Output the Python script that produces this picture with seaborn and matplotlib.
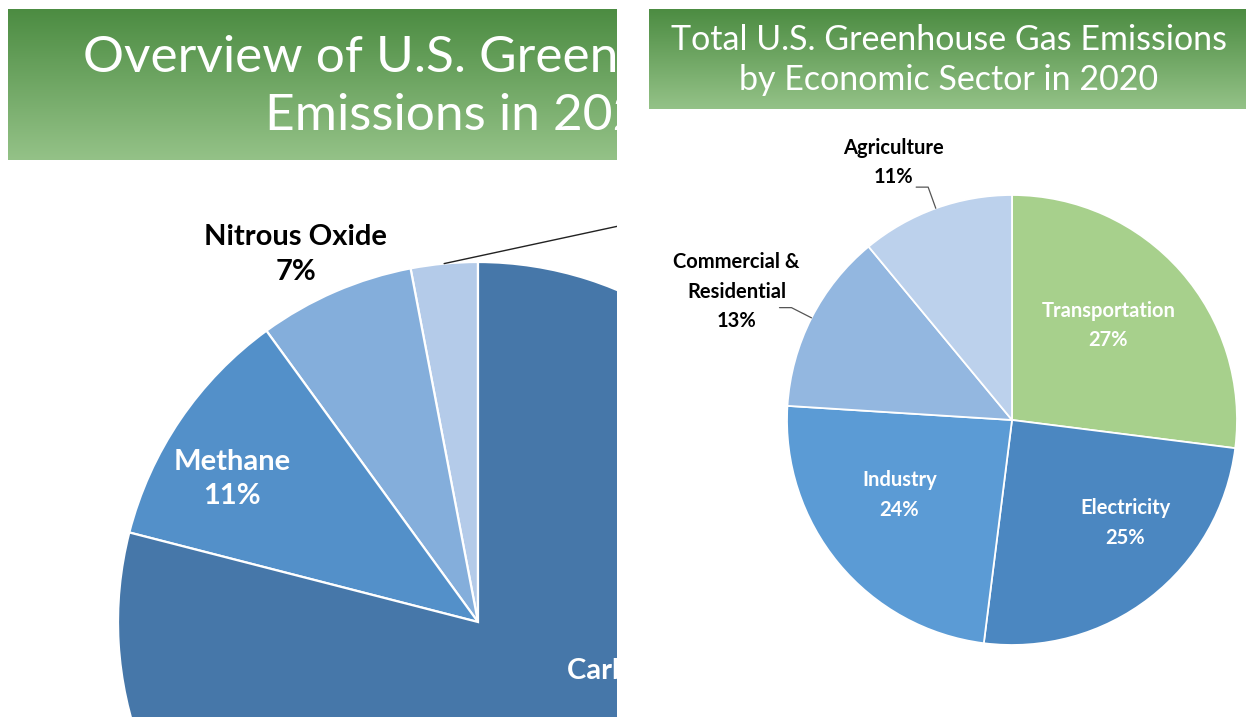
import numpy as np
import matplotlib
matplotlib.use("Agg")
import matplotlib.pyplot as plt
import seaborn as sns

# --- data -------------------------------------------------------------
gas_labels = ["Fluorinated Gases", "Nitrous Oxide", "Methane", "Carbon Dioxide"]
gas_shares = [3, 7, 11, 79]
gas_colors = ["#b4cbe9", "#84aedb", "#5390c9", "#4677a9"]

sector_labels = ["Transportation", "Electricity", "Industry",
                 "Commercial &\nResidential", "Agriculture"]
sector_shares = [27, 25, 24, 13, 11]
sector_colors = ["#a7d08c", "#4b87c1", "#5b9bd5", "#93b7e0", "#bcd1ec"]

left_title = ["Overview of U.S. Greenhouse Gas", "Emissions in 2020"]
right_title = ["Total U.S. Greenhouse Gas Emissions",
               "by Economic Sector in 2020"]

sns.set_theme(style="white")
plt.rcParams["font.family"] = ["Lato", "DejaVu Sans"]

W, H = 1246, 717
fig = plt.figure(figsize=(W / 100, H / 100), dpi=100)
fig.patch.set_facecolor("white")

LEFT_W = 617
RIGHT_X0 = 648


def img_y(y):
    """Convert a top-down pixel row to the y-up axes coordinate."""
    return H - y


def banner(ax, x0, x1, y0, y1):
    grad = np.linspace(0, 1, 64)[:, None]
    top = np.array([0.30, 0.55, 0.26])
    bot = np.array([0.58, 0.76, 0.53])
    img = top + grad[..., None] * (bot - top)
    img = np.repeat(img, 4, axis=1)
    ax.imshow(img, extent=(x0, x1, img_y(y1), img_y(y0)), aspect="auto",
              zorder=0, interpolation="bicubic")


def polar(center, r, deg):
    a = np.deg2rad(deg)
    return center[0] + r * np.cos(a), center[1] + r * np.sin(a)


def mid_angle(w):
    return 0.5 * (w.theta1 + w.theta2)


# --- left panel: gases (zoomed crop) ------------------------------------
ax_l = fig.add_axes([0, 0, LEFT_W / W, 1])
c_l = (478, img_y(622))
r_l = 360
wedges_l, _ = ax_l.pie(gas_shares, colors=gas_colors, startangle=90,
                       counterclock=True, center=c_l, radius=r_l,
                       wedgeprops={"edgecolor": "white", "linewidth": 1.6})
for w in wedges_l:
    w.set_clip_on(True)
    w.set_clip_path(ax_l.patch)
ax_l.set_xlim(0, LEFT_W)
ax_l.set_ylim(0, H)
ax_l.set_aspect("auto")
ax_l.axis("off")
banner(ax_l, 8, LEFT_W, 9, 160)
ax_l.text(83, img_y(72), left_title[0], color="white", fontsize=37,
          ha="left", va="baseline", clip_on=True, zorder=3)
ax_l.text(265, img_y(130), left_title[1], color="white", fontsize=37,
          ha="left", va="baseline", clip_on=True, zorder=3)

# label placement: (radius factor, angle nudge, colour)
gas_label_style = [(1.9, -8, "black"), (1.14, 3, "black"),
                   (0.79, 4, "white"), (0.56, 33, "white")]
for w, lab, val, (rf, nudge, col) in zip(wedges_l, gas_labels, gas_shares,
                                          gas_label_style):
    x, y = polar(c_l, r_l * rf, mid_angle(w) + nudge)
    ax_l.text(x, y, f"{lab}\n{val}%", color=col, fontsize=21,
              fontweight="bold", ha="center", va="center",
              linespacing=1.42, clip_on=True, zorder=4)

# leader line for the tiny fluorinated-gas slice, runs off the crop
w_f = wedges_l[0]
x0, y0 = polar(c_l, r_l, mid_angle(w_f))
ax_l.plot([x0, x0 + 260], [y0, y0 + 56], color="#222222", lw=1.0,
          clip_on=True, zorder=4)

# --- right panel: economic sectors --------------------------------------
ax_r = fig.add_axes([RIGHT_X0 / W, 0, (W - RIGHT_X0) / W, 1])
c_r = (1012, img_y(420))
r_r = 225
wedges_r, _ = ax_r.pie(sector_shares, colors=sector_colors, startangle=90,
                       counterclock=False, center=c_r, radius=r_r,
                       wedgeprops={"edgecolor": "white", "linewidth": 1.3})
ax_r.set_xlim(RIGHT_X0, W)
ax_r.set_ylim(0, H)
ax_r.set_aspect("auto")
ax_r.axis("off")
banner(ax_r, 649, W, 9, 109)
for line, base in zip(right_title, (50, 90)):
    ax_r.text(949, img_y(base), line, color="white", fontsize=24.5,
              ha="center", va="baseline", zorder=3)

sector_label_style = [(0.60, 3, "white"), (0.68, 10, "white"),
                      (0.60, -6, "white"), (1.35, 2, "black"),
                      (1.26, 5, "black")]
for i, (w, lab, val, (rf, nudge, col)) in enumerate(
        zip(wedges_r, sector_labels, sector_shares, sector_label_style)):
    ang = mid_angle(w)
    x, y = polar(c_r, r_r * rf, ang + nudge)
    ax_r.text(x, y, f"{lab}\n{val}%", color=col, fontsize=14.5,
              fontweight="bold", ha="center", va="center",
              linespacing=1.6, zorder=4)
    if rf > 1:
        # outside label: elbow leader from the slice edge
        ex, ey = polar(c_r, r_r, ang)
        kx, ky = polar(c_r, r_r * 1.1, ang)
        ax_r.plot([ex, kx, kx - 12], [ey, ky, ky], color="#555555",
                  lw=0.9, zorder=4)

fig.savefig("out.png", dpi=100, facecolor="white")
